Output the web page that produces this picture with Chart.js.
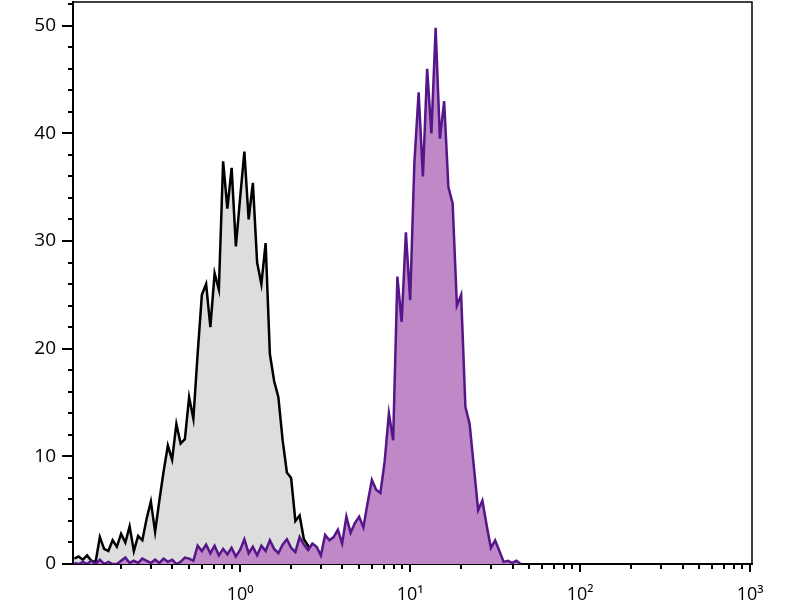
<!DOCTYPE html>
<html>
<head>
<meta charset="utf-8">
<script src="https://cdn.jsdelivr.net/npm/chart.js@4.4.1/dist/chart.umd.min.js"></script>
<style>
  html, body { margin: 0; padding: 0; background: #fff; }
</style>
</head>
<body>
<canvas id="myChart" width="800" height="600"></canvas>
<script>
// channel grid of the histogram (log10 of first channel, channel width in decades)
let channelStart = -0.975;
let channelWidth = 0.025;

// counts per channel
let isotypeCounts = [
  0.5, 0.7, 0.4, 0.8, 0.3, 0.2, 2.5, 1.4, 1.2, 2.2,
  1.6, 2.8, 2.0, 3.5, 1.2, 2.6, 2.2, 4.2, 5.8, 3.0,
  5.9, 8.6, 11.0, 9.7, 13.0, 11.2, 11.6, 15.5, 13.5, 19.5,
  25.0, 26.0, 22.0, 27.0, 25.5, 37.4, 33.0, 36.8, 29.5, 34.0,
  38.3, 32.0, 35.4, 28.0, 26.0, 29.8, 19.5, 17.0, 15.5, 11.5,
  8.5, 8.0, 4.0, 4.5, 2.3, 1.7, 1.0, 0.6, 0.2, 0
];
let stainedCounts = [
  0.1, 0, 0.2, 0, 0.3, 0, 0.4, 0, 0.2, 0,
  0, 0.3, 0.6, 0.1, 0.3, 0.1, 0.5, 0.3, 0.1, 0.4,
  0.1, 0.5, 0.2, 0.4, 0, 0.2, 0.6, 0.5, 0.3, 1.7,
  1.2, 1.8, 1.0, 1.7, 0.8, 1.4, 0.9, 1.5, 0.7, 1.3,
  2.3, 1.0, 1.6, 0.8, 1.7, 1.2, 2.2, 1.4, 1.0, 1.8,
  2.3, 1.5, 1.1, 2.5, 1.8, 1.3, 1.9, 1.6, 0.8, 2.7,
  2.2, 2.5, 3.2, 1.9, 4.4, 2.9, 3.8, 4.4, 3.4, 5.7,
  7.8, 6.9, 6.6, 9.5, 14.0, 11.5, 26.7, 22.5, 30.8, 24.5,
  37.3, 43.8, 36.0, 46.0, 40.0, 49.8, 39.5, 43.0, 35.0, 33.5,
  24.0, 25.0, 14.6, 13.0, 9.0, 5.0, 5.9, 3.6, 1.5, 2.2,
  1.2, 0.2, 0.3, 0.1, 0.3, 0
];

let majorTicksX = [1, 10, 100, 1000];
let xTickLabels = ["10\u2070", "10\u00b9", "10\u00b2", "10\u00b3"];
let minorTicksX = [0.2, 0.3, 0.4, 0.5, 0.6, 0.7, 0.8, 0.9,
  2, 3, 4, 5, 6, 7, 8, 9, 20, 30, 40, 50, 60, 70, 80, 90,
  200, 300, 400, 500, 600, 700, 800, 900];
let yTickLabels = [0, 10, 20, 30, 40, 50];
let yMinorTicks = [2, 4, 6, 8, 12, 14, 16, 18, 22, 24, 26, 28,
  32, 34, 36, 38, 42, 44, 46, 48, 52];

function toPoints(counts) {
  let pts = [];
  for (let i = 0; i < counts.length; i++) {
    pts.push({ x: Math.pow(10, channelStart + i * channelWidth), y: counts[i] });
  }
  return pts;
}

function tick(ctx, x1, y1, x2, y2) {
  ctx.beginPath();
  ctx.moveTo(x1, y1);
  ctx.lineTo(x2, y2);
  ctx.stroke();
}

// tick marks and the top/right frame
const frameTicks = {
  id: "frameTicks",
  afterDraw(chart) {
    const ctx = chart.ctx;
    const a = chart.chartArea;
    const xs = chart.scales.x;
    const ys = chart.scales.y;
    ctx.save();
    ctx.strokeStyle = "#000";
    ctx.lineWidth = 2;
    majorTicksX.forEach(function (v) {
      const px = Math.round(xs.getPixelForValue(v));
      tick(ctx, px, a.bottom, px, a.bottom + 8);
    });
    minorTicksX.forEach(function (v) {
      const px = Math.round(xs.getPixelForValue(v));
      tick(ctx, px, a.bottom, px, a.bottom + 5);
    });
    yTickLabels.forEach(function (v) {
      const py = Math.round(ys.getPixelForValue(v));
      tick(ctx, a.left, py, a.left - 11, py);
    });
    yMinorTicks.forEach(function (v) {
      const py = Math.round(ys.getPixelForValue(v));
      tick(ctx, a.left, py, a.left - 5, py);
    });
    ctx.lineWidth = 1.5;
    ctx.beginPath();
    ctx.moveTo(a.left, a.top);
    ctx.lineTo(a.right, a.top);
    ctx.lineTo(a.right, a.bottom);
    ctx.stroke();
    ctx.restore();
  }
};

const config = {
  type: "line",
  data: {
    datasets: [
      {
        label: "stained",
        data: toPoints(stainedCounts),
        borderColor: "#55168a",
        backgroundColor: "#bf88c6",
        borderWidth: 2.5,
        fill: "origin",
        pointRadius: 0,
        tension: 0,
      },
      {
        label: "isotype",
        data: toPoints(isotypeCounts),
        borderColor: "#000000",
        backgroundColor: "#dddddd",
        borderWidth: 2.5,
        fill: "origin",
        pointRadius: 0,
        tension: 0,
      },
    ],
  },
  options: {
    responsive: false,
    animation: false,
    layout: { padding: { top: 2, right: 48, left: 0, bottom: 0 } },
    plugins: { legend: { display: false }, tooltip: { enabled: false } },
    scales: {
      x: {
        type: "logarithmic",
        min: 0.104,
        max: 1025,
        afterBuildTicks: function (scale) {
          scale.ticks = majorTicksX.map(function (v) { return { value: v }; });
        },
        afterFit: function (scale) {
          scale.height = 36;
          scale.paddingLeft = 0;
          scale.paddingRight = 0;
        },
        border: { display: true, color: "#000", width: 2 },
        grid: { display: true, drawOnChartArea: false, drawTicks: true, tickLength: 10, tickColor: "rgba(0,0,0,0)" },
        ticks: {
          autoSkip: false,
          maxRotation: 0,
          padding: 10,
          color: "#000",
          font: { family: "'Open Sans', 'DejaVu Sans', sans-serif", size: 18 },
          callback: function (value) {
            let k = majorTicksX.indexOf(value);
            return k >= 0 ? xTickLabels[k] : "";
          },
        },
      },
      y: {
        type: "linear",
        min: 0,
        max: 52.2,
        afterBuildTicks: function (scale) {
          scale.ticks = yTickLabels.map(function (v) { return { value: v }; });
        },
        afterFit: function (scale) {
          scale.width = 73;
          scale.paddingTop = 0;
          scale.paddingBottom = 0;
        },
        border: { display: true, color: "#000", width: 2 },
        grid: { display: true, drawOnChartArea: false, drawTicks: true, tickLength: 10, tickColor: "rgba(0,0,0,0)" },
        ticks: {
          autoSkip: false,
          padding: 7,
          color: "#000",
          font: { family: "'Open Sans', 'DejaVu Sans', sans-serif", size: 19 },
          callback: function (value) {
            return String(value);
          },
        },
      },
    },
  },
  plugins: [frameTicks],
};

let myChart = new Chart(document.getElementById("myChart"), config);
</script>
</body>
</html>
